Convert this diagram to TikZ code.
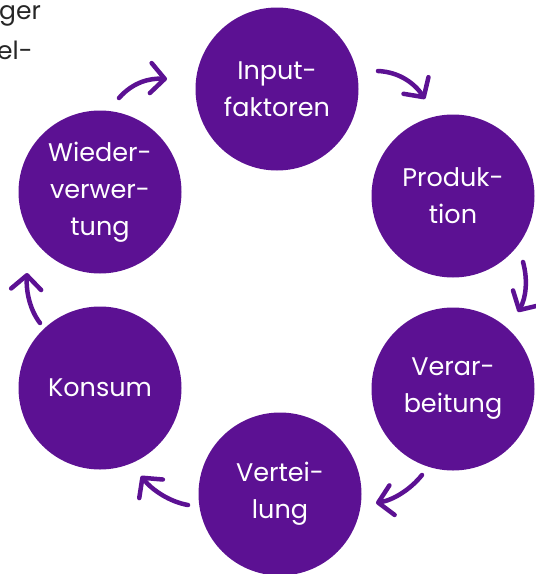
\documentclass[tikz,border=0pt]{standalone}
\usepackage{fontspec}
\setmainfont{Poppins}
\usetikzlibrary{arrows.meta}
\definecolor{cpurple}{HTML}{5C1193}
\tikzset{
  stage/.style={circle, fill=cpurple, minimum size=163pt, inner sep=0pt, text=white,
    align=center, font=\fontsize{25.5}{37}\selectfont},
  flow/.style={draw=cpurple, line width=4.5pt, line cap=round,
    -{Straight Barb[length=14pt,width=30pt,line cap=round,line join=round]}},
  cut/.style={anchor=west, font=\fontsize{25}{33}\selectfont, text=black!85, inner sep=0pt}
}
\begin{document}
\begin{tikzpicture}[x=1pt,y=-1pt]
\useasboundingbox (0,0) rectangle (536,574);
\clip (0,0) rectangle (536,574);
\node[cut] (t1) at (-1,16) {ger};
\node[cut] (t2) at (-3,50) {el-};
\node[stage] (c1) at (277,89) {Input-\\faktoren};
\node[stage] (c2) at (453,196) {Produk-\\tion};
\node[stage] (c3) at (453,389) {Verar-\\beitung};
\node[stage] (c4) at (280,494) {Vertei-\\lung};
\node[stage] (c5) at (100,388) {Konsum};
\node[stage] (c6) at (100,192) {Wieder-\\verwer-\\tung};
\coordinate (a1s) at (119,98);  \coordinate (a1e) at (167,79);
\coordinate (a2s) at (378,71);  \coordinate (a2e) at (425,99);
\coordinate (a3s) at (523,262); \coordinate (a3e) at (518,312);
\coordinate (a4s) at (422,475); \coordinate (a4e) at (376,503);
\coordinate (a5s) at (188,505); \coordinate (a5e) at (141,476);
\coordinate (a6s) at (40,323);  \coordinate (a6e) at (27,273);
\draw[flow] (a1s) .. controls (133,82) and (150,78) .. (a1e);
\draw[flow] (a2s) .. controls (400,72) and (415,84) .. (a2e);
\draw[flow] (a3s) .. controls (528,280) and (526,298) .. (a3e);
\draw[flow] (a4s) .. controls (410,490) and (393,500) .. (a4e);
\draw[flow] (a5s) .. controls (170,502) and (152,490) .. (a5e);
\draw[flow] (a6s) .. controls (30,310) and (26,292) .. (a6e);
\end{tikzpicture}
\end{document}
